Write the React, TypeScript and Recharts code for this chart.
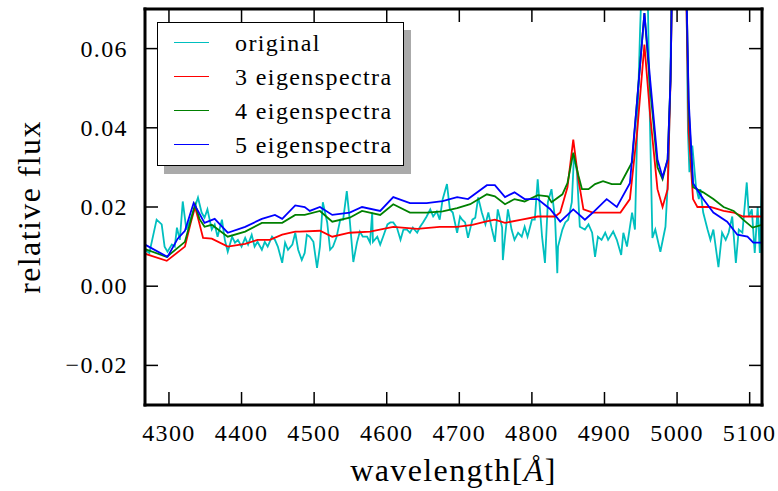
import React from "react";
import { LineChart, Line, XAxis, YAxis, Legend } from "recharts";

// wavelength [A] and relative flux
const origWave = [4267, 4273, 4283, 4290, 4294, 4298, 4304, 4308, 4311, 4315, 4319, 4324, 4331, 4336, 4340, 4345, 4349, 4353, 4359, 4363, 4367, 4373, 4377, 4381, 4387, 4391, 4395, 4400, 4405, 4409, 4414, 4418, 4422, 4428, 4432, 4436, 4442, 4446, 4450, 4456, 4460, 4464, 4470, 4474, 4478, 4483, 4487, 4490, 4494, 4499, 4504, 4508, 4512, 4518, 4522, 4526, 4531, 4536, 4540, 4545, 4549, 4554, 4559, 4563, 4567, 4573, 4577, 4580, 4581, 4587, 4591, 4595, 4601, 4605, 4609, 4614, 4619, 4623, 4628, 4632, 4636, 4642, 4646, 4650, 4655, 4660, 4664, 4669, 4673, 4677, 4683, 4687, 4691, 4697, 4701, 4704, 4708, 4712, 4718, 4722, 4726, 4731, 4736, 4740, 4745, 4749, 4753, 4759, 4760, 4763, 4767, 4772, 4776, 4781, 4786, 4790, 4794, 4800, 4804, 4808, 4814, 4818, 4822, 4827, 4832, 4835, 4836, 4842, 4846, 4850, 4855, 4858, 4862, 4866, 4873, 4878, 4883, 4887, 4891, 4896, 4901, 4905, 4912, 4917, 4923, 4926, 4931, 4938, 4942, 4945, 4949, 4952, 4956, 4959, 4962, 4966, 4970, 4977, 4984, 4988, 4991, 4994, 5003, 5012, 5015, 5017, 5021, 5026, 5030, 5032, 5036, 5042, 5046, 5050, 5057, 5062, 5067, 5071, 5076, 5081, 5085, 5090, 5096, 5099, 5103, 5107, 5111, 5114, 5117];
const origFlux = [0.0092, 0.0084, 0.0168, 0.0156, 0.01, 0.0087, 0.0105, 0.01, 0.0148, 0.0117, 0.0214, 0.0143, 0.0176, 0.0201, 0.0224, 0.0186, 0.0173, 0.0194, 0.0143, 0.0156, 0.0125, 0.0168, 0.0117, 0.0087, 0.0125, 0.011, 0.0117, 0.01, 0.0122, 0.0105, 0.013, 0.01, 0.0112, 0.0092, 0.0112, 0.01, 0.0125, 0.0117, 0.01, 0.0059, 0.011, 0.0092, 0.0105, 0.0135, 0.0092, 0.0066, 0.0084, 0.013, 0.0125, 0.0112, 0.0046, 0.01, 0.0212, 0.0161, 0.0092, 0.01, 0.0125, 0.0168, 0.0168, 0.024, 0.0168, 0.0061, 0.011, 0.0138, 0.0125, 0.0125, 0.011, 0.0186, 0.0112, 0.0125, 0.0105, 0.0125, 0.0156, 0.0161, 0.0161, 0.0148, 0.0117, 0.0143, 0.0143, 0.0135, 0.0148, 0.0135, 0.015, 0.0161, 0.0176, 0.0194, 0.0176, 0.0189, 0.0168, 0.0219, 0.0258, 0.0194, 0.0186, 0.0135, 0.0176, 0.0168, 0.0161, 0.0122, 0.0168, 0.0173, 0.0224, 0.0186, 0.0156, 0.0186, 0.0143, 0.0112, 0.0194, 0.0148, 0.0066, 0.0125, 0.0194, 0.0143, 0.0117, 0.0135, 0.0125, 0.015, 0.0125, 0.0168, 0.0168, 0.027, 0.0125, 0.0059, 0.0212, 0.0245, 0.0168, 0.0033, 0.01, 0.0143, 0.0161, 0.0168, 0.0212, 0.033, 0.029, 0.015, 0.0143, 0.0156, 0.0135, 0.0074, 0.0125, 0.0117, 0.0135, 0.0117, 0.0138, 0.0117, 0.0079, 0.0135, 0.01, 0.0186, 0.0143, 0.039, 0.0645, 0.08, 0.09, 0.08, 0.047, 0.0122, 0.0143, 0.0087, 0.015, 0.0288, 0.056, 0.1, 0.2, 0.09, 0.039, 0.0288, 0.0355, 0.0252, 0.022, 0.0245, 0.0186, 0.0143, 0.0117, 0.0143, 0.0048, 0.0135, 0.0117, 0.0135, 0.0176, 0.0059, 0.0143, 0.0135, 0.0262, 0.0176, 0.0194, 0.0084, 0.02, 0.0084, 0.0278];

const eig3Wave = [4267, 4297, 4322, 4330, 4336, 4341, 4347, 4359, 4381, 4405, 4422, 4439, 4456, 4474, 4480, 4508, 4525, 4549, 4577, 4609, 4642, 4673, 4697, 4718, 4736, 4749, 4763, 4786, 4808, 4832, 4839, 4849, 4857, 4864, 4871, 4884, 4905, 4922, 4935, 4945, 4955, 4963, 4973, 4980, 4987, 4991, 4995, 5003, 5010, 5014, 5016, 5022, 5028, 5046, 5064, 5078, 5091, 5117];
const eig3Flux = [0.0082, 0.0064, 0.01, 0.016, 0.02, 0.0165, 0.0122, 0.012, 0.01, 0.0107, 0.0117, 0.0117, 0.013, 0.0138, 0.0138, 0.014, 0.0125, 0.0135, 0.0138, 0.015, 0.0145, 0.015, 0.015, 0.0155, 0.0163, 0.0168, 0.016, 0.0168, 0.0176, 0.0176, 0.0186, 0.025, 0.037, 0.027, 0.0194, 0.0186, 0.0186, 0.0186, 0.022, 0.039, 0.061, 0.043, 0.0245, 0.02, 0.0245, 0.052, 0.1, 0.2, 0.1, 0.06, 0.039, 0.022, 0.02, 0.02, 0.019, 0.0186, 0.0176, 0.0176];

const eig4Wave = [4267, 4297, 4322, 4330, 4336, 4342, 4349, 4359, 4381, 4405, 4428, 4456, 4474, 4487, 4508, 4525, 4549, 4566, 4591, 4609, 4632, 4655, 4677, 4697, 4715, 4738, 4749, 4763, 4776, 4790, 4808, 4822, 4827, 4842, 4849, 4857, 4864, 4869, 4878, 4887, 4898, 4910, 4922, 4938, 4945, 4955, 4963, 4973, 4980, 4987, 4991, 4995, 5003, 5010, 5014, 5016, 5022, 5036, 5050, 5064, 5078, 5091, 5104, 5117];
const eig4Flux = [0.0094, 0.0074, 0.0112, 0.0165, 0.0207, 0.017, 0.015, 0.0155, 0.0125, 0.0138, 0.016, 0.016, 0.018, 0.018, 0.019, 0.0163, 0.0173, 0.019, 0.018, 0.0207, 0.0186, 0.0186, 0.0189, 0.0197, 0.0207, 0.0232, 0.0227, 0.0207, 0.022, 0.0214, 0.023, 0.0227, 0.0212, 0.0232, 0.026, 0.0337, 0.028, 0.0245, 0.0245, 0.0258, 0.0265, 0.0258, 0.0258, 0.0313, 0.047, 0.069, 0.05, 0.03, 0.027, 0.032, 0.052, 0.1, 0.2, 0.1, 0.065, 0.045, 0.025, 0.0237, 0.022, 0.02, 0.019, 0.0168, 0.0148, 0.0155];

const eig5Wave = [4267, 4298, 4312, 4322, 4334, 4349, 4363, 4381, 4405, 4428, 4446, 4456, 4474, 4487, 4494, 4508, 4525, 4549, 4566, 4591, 4609, 4632, 4655, 4677, 4697, 4712, 4738, 4749, 4763, 4776, 4790, 4808, 4825, 4839, 4857, 4873, 4884, 4903, 4917, 4935, 4945, 4955, 4963, 4973, 4980, 4987, 4991, 4995, 5003, 5010, 5014, 5016, 5022, 5036, 5050, 5069, 5083, 5097, 5105, 5117];
const eig5Flux = [0.0105, 0.0074, 0.012, 0.014, 0.021, 0.016, 0.017, 0.0135, 0.015, 0.017, 0.018, 0.017, 0.0204, 0.02, 0.019, 0.02, 0.018, 0.0186, 0.02, 0.019, 0.0225, 0.021, 0.021, 0.0215, 0.0225, 0.022, 0.0255, 0.0255, 0.0225, 0.0237, 0.022, 0.022, 0.0195, 0.0163, 0.0194, 0.0168, 0.0186, 0.022, 0.02, 0.026, 0.047, 0.069, 0.052, 0.032, 0.0275, 0.032, 0.052, 0.1, 0.2, 0.1, 0.065, 0.047, 0.026, 0.022, 0.0186, 0.0163, 0.013, 0.0125, 0.011, 0.011];

const seriesNames = ["original", "3 eigenspectra", "4 eigenspectra", "5 eigenspectra"];
const xTicks = [4300, 4400, 4500, 4600, 4700, 4800, 4900, 5000, 5100];
const yTicks = [-0.02, 0, 0.02, 0.04, 0.06];

const toRows = (w: number[], f: number[]) => w.map((v, i) => ({ w: v, f: f[i] }));

const W = 778;
const H = 491;
const PL = 145;
const PR = 762;
const PT = 9;
const PB = 405;
const TICK = 13;
const FONT = "Liberation Serif";
const LS = 1.4;

const fmtY = (v: number) => (v < 0 ? "\u2212" + Math.abs(v).toFixed(2) : v.toFixed(2));

const LeftTick = (props: any) => {
  const { y, payload } = props;
  return (
    <g>
      <line x1={PL} x2={PL + TICK} y1={y} y2={y} stroke="#000" strokeWidth={1.5} />
      <text x={PL - 17} y={y + 8} textAnchor="end" fontFamily={FONT} fontSize={24} letterSpacing={LS} fill="#000">
        {fmtY(payload.value)}
      </text>
    </g>
  );
};

const RightTick = (props: any) => {
  const { y } = props;
  return <line x1={PR - TICK} x2={PR} y1={y} y2={y} stroke="#000" strokeWidth={1.5} />;
};

const BottomTick = (props: any) => {
  const { x, payload } = props;
  return (
    <g>
      <line x1={x} x2={x} y1={PB} y2={PB - TICK} stroke="#000" strokeWidth={1.5} />
      <text x={x} y={PB + 36} textAnchor="middle" fontFamily={FONT} fontSize={24} letterSpacing={LS} fill="#000">
        {payload.value}
      </text>
    </g>
  );
};

const TopTick = (props: any) => {
  const { x } = props;
  return <line x1={x} x2={x} y1={PT} y2={PT + TICK} stroke="#000" strokeWidth={1.5} />;
};

const renderLegend = (props: any) => {
  // keep the plotting order, not the alphabetical one
  const items = [...(props.payload || [])].sort(
    (a: any, b: any) => seriesNames.indexOf(a.value) - seriesNames.indexOf(b.value)
  );
  return (
    <div
      style={{
        position: "relative",
        boxSizing: "border-box",
        width: 247,
        height: 144,
        border: "1.5px solid #000",
        background: "#fff",
        boxShadow: "7px 8px 0 #aaaaaa",
        fontFamily: FONT,
        fontSize: 24,
        letterSpacing: LS,
        color: "#000",
      }}
    >
      {items.map((it: any, i: number) => (
        <div key={i} style={{ position: "absolute", left: 0, top: 20 + i * 34 - 14, height: 28, width: 245 }}>
          <div style={{ position: "absolute", left: 16, top: 13, width: 35, height: 0, borderTop: `1.6px solid ${it.color}` }} />
          <div style={{ position: "absolute", left: 77, top: 0, lineHeight: "28px", whiteSpace: "nowrap" }}>{it.value}</div>
        </div>
      ))}
    </div>
  );
};

const axisLine = { stroke: "#000", strokeWidth: 3, strokeLinecap: "square" as const };

export default function App() {
  return (
    <div style={{ position: "absolute", left: 0, top: 0, width: W, height: H, background: "#fff" }}>
      <LineChart width={W} height={H} margin={{ top: 4, right: 6, left: 45, bottom: 36 }}>
        <XAxis
          dataKey="w"
          type="number"
          domain={[4267, 5117]}
          allowDataOverflow
          ticks={xTicks}
          tick={<BottomTick />}
          tickLine={false}
          tickSize={0}
          axisLine={axisLine}
          height={50}
          label={{
            content: () => (
              <text x={(PL + PR) / 2} y={481} textAnchor="middle" fontFamily={FONT} fontSize={32} letterSpacing={LS} fill="#000">
                wavelength[<tspan fontStyle="italic">Å</tspan>]
              </text>
            ),
          }}
        />
        <XAxis
          xAxisId="top"
          orientation="top"
          dataKey="w"
          type="number"
          domain={[4267, 5117]}
          allowDataOverflow
          ticks={xTicks}
          tick={<TopTick />}
          tickLine={false}
          tickSize={0}
          axisLine={axisLine}
          height={5}
        />
        <YAxis
          type="number"
          domain={[-0.03, 0.07]}
          allowDataOverflow
          ticks={yTicks}
          tick={<LeftTick />}
          tickLine={false}
          tickSize={0}
          axisLine={axisLine}
          width={100}
          label={{
            content: () => (
              <text
                x={40}
                y={(PT + PB) / 2}
                transform={`rotate(-90 40 ${(PT + PB) / 2})`}
                textAnchor="middle"
                fontFamily={FONT}
                fontSize={32}
                letterSpacing={LS}
                fill="#000"
              >
                relative flux
              </text>
            ),
          }}
        />
        <YAxis
          yAxisId="right"
          orientation="right"
          type="number"
          domain={[-0.03, 0.07]}
          allowDataOverflow
          ticks={yTicks}
          tick={<RightTick />}
          tickLine={false}
          tickSize={0}
          axisLine={axisLine}
          width={10}
        />
        <Legend
          layout="vertical"
          align="center"
          verticalAlign="middle"
          content={renderLegend}
          wrapperStyle={{ left: 157, top: 22, width: 247, height: 144 }}
        />
        <Line data={toRows(origWave, origFlux)} dataKey="f" name={seriesNames[0]} stroke="#00bfbf" strokeWidth={1.8} dot={false} activeDot={false} isAnimationActive={false} />
        <Line data={toRows(eig3Wave, eig3Flux)} dataKey="f" name={seriesNames[1]} stroke="#ff0000" strokeWidth={1.8} dot={false} activeDot={false} isAnimationActive={false} />
        <Line data={toRows(eig4Wave, eig4Flux)} dataKey="f" name={seriesNames[2]} stroke="#008000" strokeWidth={1.8} dot={false} activeDot={false} isAnimationActive={false} />
        <Line data={toRows(eig5Wave, eig5Flux)} dataKey="f" name={seriesNames[3]} stroke="#0000ff" strokeWidth={1.8} dot={false} activeDot={false} isAnimationActive={false} />
      </LineChart>
    </div>
  );
}
